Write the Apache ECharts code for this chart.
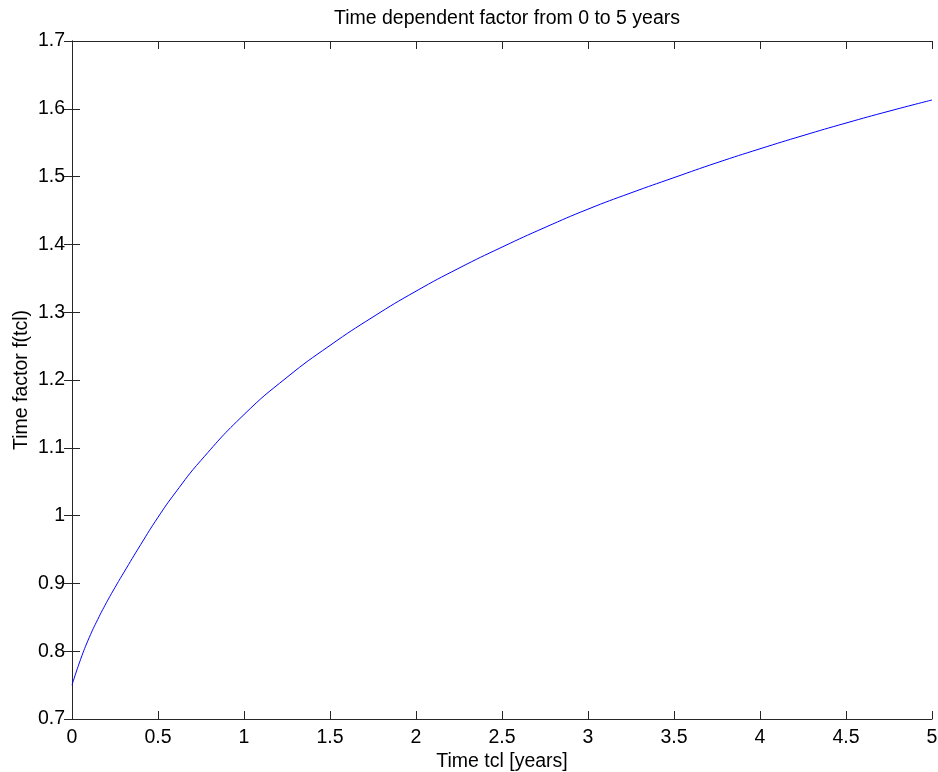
<!DOCTYPE html>
<html>
<head>
<meta charset="utf-8">
<title>Time dependent factor</title>
<script src="https://cdn.jsdelivr.net/npm/echarts@6/dist/echarts.min.js"></script>
<style>
  html, body { margin: 0; padding: 0; background: #fff; }
  #chart { width: 938px; height: 772px; }
</style>
</head>
<body>
<div id="chart"></div>
<script>
// Time in years and the corresponding time factor f(tcl)
var timeYears = [0, 0.05, 0.1, 0.15, 0.2, 0.25, 0.3, 0.4, 0.5, 0.6, 0.75, 1.0,
  1.25, 1.5, 1.75, 2.0, 2.25, 2.5, 2.75, 3.0, 3.25, 3.5, 3.75, 4.0, 4.25, 4.5, 4.75, 5.0];
var timeFactor = [0.750, 0.788, 0.820, 0.847, 0.8715, 0.894, 0.9155, 0.9575, 0.9975, 1.0335, 1.0815, 1.149,
  1.204, 1.251, 1.293, 1.331, 1.365, 1.396, 1.425, 1.452, 1.476, 1.4985, 1.5205, 1.541, 1.5605, 1.579, 1.5965, 1.613];

var chartTitle = 'Time dependent factor from 0 to 5 years';
var xName = 'Time tcl [years]';
var yName = 'Time factor f(tcl)';

var FONT = '"Liberation Sans", Arial, sans-serif';
var FONT_SIZE = 19.5;
var AXIS_COLOR = '#262626';

var points = timeYears.map(function (t, i) { return [t, timeFactor[i]]; });

// Each side of the box is an axis with inward ticks; only bottom/left carry labels.
function boxAxis(base, extra) {
  var o = {
    type: 'value',
    min: base.min, max: base.max, interval: base.interval,
    axisLine: { show: true, lineStyle: { color: AXIS_COLOR, width: 1 } },
    axisTick: { show: true, inside: true, length: 8, lineStyle: { color: AXIS_COLOR, width: 1 } },
    splitLine: { show: false },
    axisLabel: { show: false }
  };
  for (var k in extra) o[k] = extra[k];
  return o;
}

var xRange = { min: 0, max: 5, interval: 0.5 };
var yRange = { min: 0.7, max: 1.7, interval: 0.1 };

var chart = echarts.init(document.getElementById('chart'), null, { renderer: 'canvas' });
chart.setOption({
  animation: false,
  backgroundColor: '#ffffff',
  textStyle: { fontFamily: FONT },
  title: {
    text: chartTitle,
    left: 502, top: 4,
    textAlign: 'center',
    textStyle: { fontFamily: FONT, fontSize: FONT_SIZE, fontWeight: 'normal', color: '#000' }
  },
  grid: {
    left: 72, right: 6, top: 41, bottom: 53,
    containLabel: false,
    outerBoundsMode: 'none'
  },
  xAxis: [
    boxAxis(xRange, {
      position: 'bottom',
      name: xName, nameLocation: 'middle', nameGap: 33, nameMoveOverlap: false,
      nameTextStyle: { fontFamily: FONT, fontSize: FONT_SIZE, color: '#000' },
      axisLabel: { show: true, margin: 9, color: '#000', fontFamily: FONT, fontSize: FONT_SIZE }
    }),
    boxAxis(xRange, { position: 'top' })
  ],
  yAxis: [
    boxAxis(yRange, {
      position: 'left',
      name: yName, nameLocation: 'middle', nameGap: 40, nameRotate: 90, nameMoveOverlap: false,
      nameTextStyle: { fontFamily: FONT, fontSize: FONT_SIZE, color: '#000' },
      axisLabel: {
        show: true, margin: 7, color: '#000', fontFamily: FONT, fontSize: FONT_SIZE,
        formatter: function (v) { return String(Math.round(v * 10) / 10); }
      }
    }),
    boxAxis(yRange, { position: 'right' })
  ],
  series: [{
    type: 'line',
    xAxisIndex: 0, yAxisIndex: 0,
    data: points,
    smooth: 0.5,
    showSymbol: false,
    lineStyle: { color: '#0000ff', width: 1 },
    itemStyle: { color: '#0000ff' }
  }]
});
</script>
</body>
</html>
